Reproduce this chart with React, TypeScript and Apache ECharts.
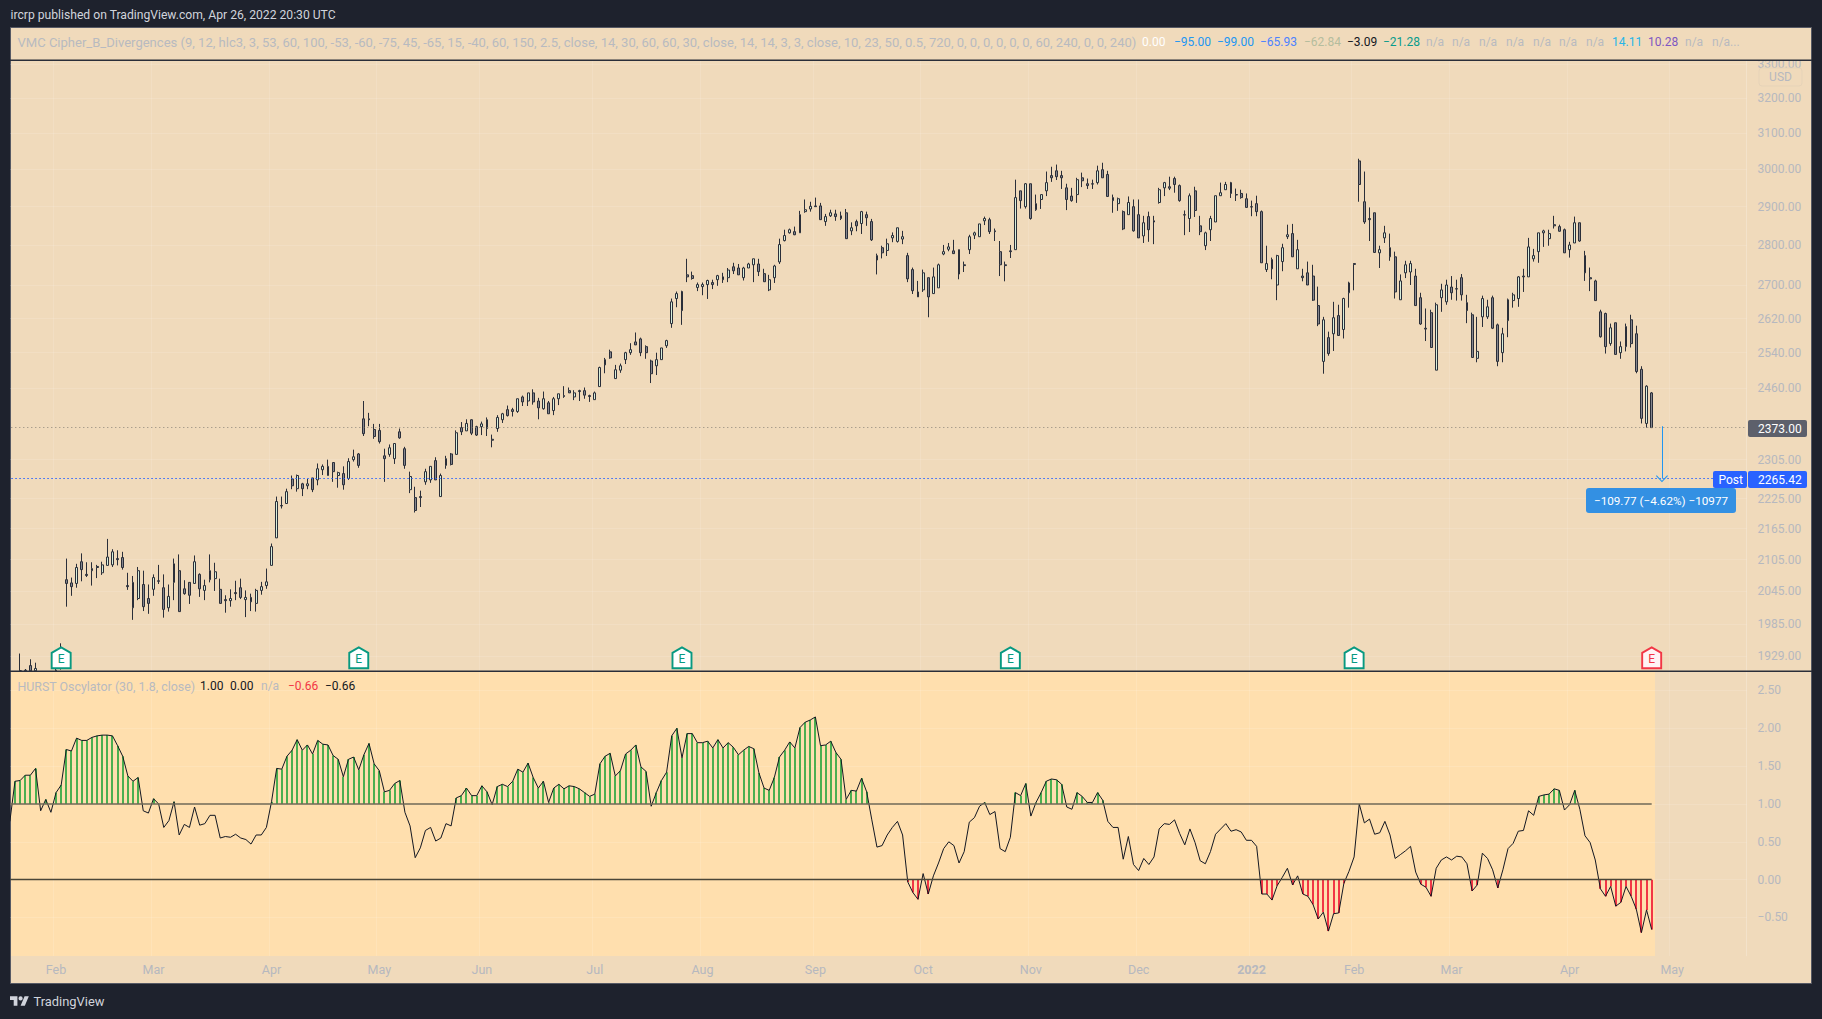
import React, { useEffect, useRef } from "react";
import * as echarts from "echarts";

// [open, close, low, high] per trading day; "-" marks days wholly below the visible pane
const candles: any[] = [
"-","-",[1903,1903,1903,1933],[1903,1904,1903,1906],[1912,1903,1903,1923],[1903,1907,1903,1917],"-","-","-",[1903,1904,1903,1907],
[1908,1925,1905,1951],[2067,2060,2017,2107],[2061,2054,2037,2071],[2060,2090,2052,2097],[2101,2086,2064,2117],[2077,2075,2072,2100],[2084,2088,2056,2100],[2092,2090,2070,2095],[2080,2095,2076,2101],[2094,2110,2094,2145],
[2095,2120,2091,2125],[2107,2105,2094,2123],[2109,2090,2086,2120],[2056,2054,2048,2080],[2015,2062,1993,2074],[2032,2084,2029,2091],[2058,2017,2009,2084],[2032,2023,2004,2058],[2049,2071,2037,2077],[2065,2064,2059,2095],
[2052,2012,1997,2077],[2015,2036,2008,2058],[2062,2097,2029,2107],[2084,2008,2008,2115],[2050,2041,2039,2066],[2062,2038,2022,2062],[2060,2101,2060,2113],[2077,2050,2035,2079],[2047,2056,2029,2067],[2067,2084,2062,2115],
[2069,2082,2046,2099],[2049,2023,2023,2069],[2030,2028,2006,2038],[2028,2032,2017,2049],[2043,2041,2029,2065],[2052,2034,2031,2069],[2030,2034,1998,2047],[2034,2026,2009,2041],[2023,2047,2008,2050],[2047,2054,2039,2063],
[2056,2063,2050,2088],[2094,2130,2094,2136],[2147,2219,2147,2229],[2211,2210,2205,2229],[2215,2239,2215,2245],[2265,2251,2244,2272],[2245,2272,2239,2274],[2255,2245,2230,2257],[2251,2255,2244,2265],[2267,2243,2238,2267],
[2263,2286,2252,2297],[2284,2291,2273,2295],[2272,2291,2272,2305],[2299,2280,2259,2299],[2272,2278,2247,2280],[2276,2253,2243,2291],[2266,2301,2263,2308],[2305,2311,2301,2326],[2317,2293,2288,2319],[2392,2360,2355,2431],
[2392,2390,2376,2405],[2369,2354,2349,2381],[2367,2343,2339,2381],[2313,2307,2259,2328],[2316,2330,2311,2337],[2307,2339,2296,2339],[2364,2351,2349,2371],[2328,2293,2286,2332],[2243,2270,2236,2280],[2227,2201,2197,2249],
[2229,2227,2208,2241],[2259,2280,2253,2286],[2263,2291,2257,2291],[2303,2263,2263,2310],[2229,2272,2229,2276],[2293,2307,2286,2313],[2317,2295,2293,2319],[2316,2362,2316,2367],[2373,2364,2357,2385],[2366,2382,2366,2391],
[2390,2361,2357,2391],[2375,2357,2355,2377],[2375,2381,2357,2386],[2390,2371,2355,2395],[2348,2346,2331,2358],[2371,2395,2364,2400],[2390,2403,2383,2405],[2412,2399,2397,2421],[2412,2408,2397,2416],[2408,2436,2405,2436],
[2440,2429,2420,2443],[2431,2449,2420,2449],[2449,2429,2423,2457],[2431,2416,2391,2438],[2414,2436,2412,2452],[2427,2403,2403,2431],[2410,2436,2400,2440],[2436,2447,2422,2447],[2443,2441,2438,2464],[2454,2449,2449,2461],
[2440,2449,2433,2455],[2454,2452,2431,2456],[2454,2444,2436,2461],[2443,2441,2429,2445],[2434,2449,2434,2452],[2463,2506,2463,2508],[2512,2524,2493,2528],[2542,2528,2526,2547],[2481,2501,2481,2512],[2500,2510,2494,2515],
[2524,2540,2514,2542],[2540,2547,2535,2562],[2565,2558,2558,2587],[2572,2540,2532,2575],[2554,2540,2526,2557],[2521,2492,2471,2524],[2510,2524,2489,2540],[2524,2551,2524,2551],[2556,2568,2551,2570],[2608,2660,2598,2668],
[2668,2680,2647,2685],[2685,2639,2605,2687],[2726,2721,2708,2766],[2724,2717,2714,2734],[2695,2702,2686,2707],[2697,2702,2676,2707],[2702,2712,2667,2714],[2707,2702,2691,2714],[2714,2724,2699,2726],[2721,2714,2706,2731],
[2719,2738,2708,2743],[2746,2736,2728,2756],[2743,2726,2726,2753],[2719,2743,2712,2746],[2743,2753,2743,2756],[2751,2766,2708,2766],[2753,2734,2723,2766],[2729,2709,2709,2741],[2689,2714,2686,2726],[2719,2748,2706,2751],
[2758,2802,2753,2817],[2812,2825,2810,2840],[2832,2840,2830,2843],[2835,2827,2826,2848],[2832,2879,2832,2889],[2887,2892,2884,2919],[2894,2901,2887,2913],[2902,2900,2900,2924],[2902,2866,2866,2910],[2861,2874,2850,2881],
[2876,2884,2873,2892],[2881,2874,2863,2892],[2876,2869,2865,2887],[2884,2817,2817,2894],[2837,2845,2826,2859],[2861,2850,2836,2866],[2856,2887,2829,2889],[2879,2871,2850,2887],[2861,2814,2811,2868],[2763,2774,2727,2779],
[2794,2781,2767,2799],[2787,2804,2773,2817],[2819,2825,2808,2833],[2810,2845,2807,2845],[2816,2822,2803,2837],[2774,2716,2708,2781],[2739,2687,2679,2744],[2684,2672,2672,2711],[2689,2731,2684,2739],[2719,2672,2623,2719],
[2680,2721,2680,2744],[2694,2751,2694,2754],[2778,2784,2775,2801],[2790,2796,2785,2806],[2786,2779,2779,2814],[2789,2728,2715,2789],[2751,2749,2733,2759],[2789,2822,2778,2827],[2826,2832,2816,2835],[2822,2855,2822,2855],
[2863,2869,2852,2874],[2866,2835,2829,2871],[2837,2835,2811,2843],[2784,2751,2723,2811],[2751,2749,2710,2759],[2786,2784,2768,2801],[2789,2924,2789,2972],[2942,2916,2895,2942],[2900,2961,2895,2963],[2961,2869,2866,2961],
[2892,2908,2889,2932],[2919,2932,2894,2932],[2942,2964,2928,2994],[2983,2977,2966,3007],[2996,2980,2971,3013],[2983,2977,2947,2996],[2950,2919,2891,2961],[2928,2916,2913,2950],[2932,2972,2910,2977],[2977,2969,2952,2991],
[2961,2956,2947,2975],[2961,2960,2947,2972],[2964,2996,2959,3010],[2999,2977,2977,3018],[2986,2927,2927,2996],[2924,2916,2884,2932],[2908,2921,2889,2924],[2887,2842,2839,2890],[2879,2911,2879,2927],[2900,2837,2835,2919],
[2879,2819,2819,2919],[2824,2858,2806,2876],[2874,2840,2809,2887],[2863,2860,2803,2876],[2911,2945,2908,2950],[2950,2964,2928,2966],[2953,2949,2944,2980],[2975,2959,2937,2980],[2956,2916,2913,2959],[2879,2878,2826,2890],
[2869,2929,2834,2935],[2942,2890,2873,2953],[2850,2835,2826,2876],[2799,2832,2788,2835],[2840,2869,2811,2876],[2860,2929,2860,2929],[2929,2937,2929,2964],[2945,2959,2945,2966],[2964,2935,2923,2966],[2932,2931,2915,2948],
[2935,2924,2921,2945],[2921,2898,2898,2935],[2900,2899,2875,2916],[2908,2887,2875,2929],[2887,2756,2756,2890],[2739,2754,2733,2799],[2764,2741,2715,2769],[2701,2774,2664,2776],[2759,2794,2735,2804],[2822,2827,2816,2853],
[2830,2771,2771,2855],[2741,2789,2741,2814],[2723,2719,2710,2741],[2731,2701,2701,2759],[2723,2664,2662,2751],[2651,2607,2602,2697],[2520,2617,2492,2624],[2575,2538,2533,2589],[2584,2622,2544,2660],[2627,2580,2580,2653],
[2594,2668,2573,2670],[2682,2706,2646,2709],[2754,2752,2688,2755],[3023,2959,2913,3029],[2913,2860,2855,2994],[2869,2866,2811,2898],[2884,2782,2781,2884],[2781,2789,2743,2799],[2819,2832,2806,2850],[2794,2771,2761,2830],
[2771,2684,2668,2784],[2665,2711,2665,2727],[2731,2751,2718,2761],[2733,2754,2701,2761],[2723,2651,2651,2741],[2670,2607,2605,2682],[2597,2595,2567,2644],[2634,2552,2552,2641],[2500,2653,2500,2658],[2670,2689,2636,2704],
[2660,2701,2653,2714],[2696,2682,2665,2723],[2692,2691,2663,2714],[2719,2677,2663,2728],[2658,2639,2609,2677],[2629,2529,2529,2634],[2527,2543,2518,2624],[2624,2668,2600,2675],[2624,2648,2619,2665],[2670,2597,2595,2675],
[2605,2520,2509,2608],[2540,2584,2518,2598],[2615,2665,2576,2668],[2663,2677,2646,2682],[2668,2721,2648,2723],[2723,2721,2684,2741],[2721,2796,2721,2819],[2766,2774,2759,2791],[2784,2832,2756,2832],[2832,2837,2796,2840],
[2817,2830,2799,2840],[2853,2850,2843,2876],[2848,2836,2835,2853],[2840,2781,2781,2843],[2789,2801,2769,2809],[2806,2858,2806,2874],[2858,2811,2809,2858],[2774,2731,2711,2786],[2719,2716,2686,2744],[2711,2663,2663,2714],
[2636,2577,2575,2641],[2632,2554,2538,2634],[2561,2598,2556,2608],[2610,2536,2536,2610],[2540,2554,2526,2566],[2554,2601,2543,2608],[2617,2561,2552,2629],[2584,2497,2493,2603],[2502,2393,2382,2509],[2382,2464,2373,2466],
[2449,2373,2373,2451],
];

const hurst: number[] = [
.77,1.30,1.31,1.38,1.38,1.47,.91,1.06,.89,1.15,1.25,1.72,1.70,1.87,1.84,1.84,1.88,1.90,1.91,1.91,
1.90,1.77,1.63,1.37,1.30,1.35,.91,.88,1.07,1.00,.69,.78,1.03,.59,.73,.69,.96,.72,.74,.85,
.85,.55,.57,.56,.60,.55,.53,.47,.59,.59,.69,1.03,1.47,1.46,1.63,1.71,1.85,1.71,1.78,1.66,
1.84,1.79,1.78,1.64,1.59,1.36,1.59,1.62,1.45,1.65,1.80,1.53,1.44,1.16,1.18,1.27,1.31,.89,.71,.29,
.42,.65,.69,.51,.55,.74,.71,1.08,1.11,1.21,1.11,1.11,1.24,1.16,.99,1.23,1.26,1.23,1.30,1.46,
1.42,1.54,1.35,1.21,1.30,1.02,1.21,1.26,1.20,1.24,1.23,1.20,1.15,1.10,1.13,1.53,1.63,1.67,1.37,1.44,
1.66,1.71,1.78,1.49,1.43,.97,1.15,1.31,1.42,1.90,2.00,1.61,1.93,1.93,1.81,1.81,1.83,1.74,1.85,1.74,
1.81,1.75,1.65,1.71,1.76,1.73,1.41,1.21,1.18,1.35,1.62,1.71,1.82,1.74,2.01,2.08,2.11,2.15,1.77,1.78,
1.83,1.68,1.59,1.06,1.18,1.17,1.34,1.16,.79,.43,.45,.59,.69,.77,.59,-.03,-.17,-.26,.08,-.19,
.05,.22,.41,.50,.45,.22,.37,.76,.82,.97,1.02,.86,.90,.41,.37,.56,1.15,1.11,1.27,.84,
1.02,1.15,1.30,1.33,1.32,1.26,.96,.93,1.15,1.10,1.02,1.02,1.15,1.05,.77,.69,.69,.27,.57,.20,
.12,.28,.20,.30,.67,.74,.73,.79,.61,.46,.67,.49,.25,.21,.37,.60,.67,.74,.64,.66,
.63,.52,.52,.44,-.19,-.19,-.27,-.08,.03,.15,-.07,.05,-.19,-.22,-.33,-.52,-.43,-.68,-.45,-.44,
-.05,.11,.30,1.00,.75,.80,.60,.62,.77,.59,.28,.33,.38,.44,.10,-.06,-.10,-.22,.15,.26,
.30,.26,.31,.30,.21,-.15,-.07,.35,.28,.13,-.11,.13,.41,.48,.64,.65,.91,.85,1.10,1.12,
1.13,1.20,1.18,.92,.99,1.18,.93,.58,.49,.26,-.12,-.22,-.09,-.35,-.30,-.09,-.22,-.39,-.70,-.40,
-.66,
];

const priceTicks = [1929,1985,2045,2105,2165,2225,2305,2460,2540,2620,2700,2800,2900,3000,3100,3200,3300];
const hurstTicks = [-0.5,0,0.5,1,1.5,2,2.5];
const monthLabels = ["Feb","Mar","Apr","May","Jun","Jul","Aug","Sep","Oct","Nov","Dec","2022","Feb","Mar","Apr","May"];
const monthIndex = [9,28,51,72,92,114,135,157,178,199,220,242,262,281,304,324];
const earningsIndex = [10,68,131,195,262];
const pendingEarningsIndex = [320];
const lastPrice = 2373;
const postPrice = 2265.42;
const measureText = "\u2212109.77 (\u22124.62%) \u221210977";

const publishedText = "ircrp published on TradingView.com, Apr 26, 2022 20:30 UTC";
const cipherTitle = "VMC Cipher_B_Divergences (9, 12, hlc3, 3, 53, 60, 100, -53, -60, -75, 45, -65, 15, -40, 60, 150, 2.5, close, 14, 30, 60, 60, 30, close, 14, 14, 3, 3, close, 10, 23, 50, 0.5, 720, 0, 0, 0, 0, 0, 0, 60, 240, 0, 0, 240)";
const cipherValues = ["0.00","\u221295.00","\u221299.00","\u221265.93","\u221262.84","\u22123.09","\u221221.28","n/a","n/a","n/a","n/a","n/a","n/a","n/a","14.11","10.28","n/a","n/a..."];
const cipherColors = ["#ffffff","#2196f3","#2196f3","#4c82ff","#b5bd9e","#131722","#089c8c","#b8bac0","#b8bac0","#b8bac0","#b8bac0","#b8bac0","#b8bac0","#b8bac0","#26b6e8","#7e57c2","#b8bac0","#b8bac0"];
const cipherX = [1142,1174,1217,1260,1304,1347,1383,1426,1452,1479,1506,1533,1559,1586,1612,1648,1685,1712];
const hurstTitle = "HURST Oscylator (30, 1.8, close)";
const hurstValuesText = ["1.00","0.00","n/a","\u22120.66","\u22120.66"];
const hurstValuesColors = ["#131722","#131722","#b8bac0","#f23645","#131722"];
const hurstValuesX = [200,230,261,288,325];

const PAGE = "#1e222d";
const PANEL = "#f0dabb";
const PANE2 = "#ffdfae";
const AXIS_TEXT = "#b6b8bf";
const FAINT = "rgba(255,255,255,0.13)";
const FONT = "Roboto";

const SLOT = 5.1307;
const SLOTS = 339;
const GRID_LEFT = 7.3;

const houseSymbol = "path://M9.5 0L19 5.5V21H0V5.5Z";
const chevron = "path://M0,9L8,0L16,9L15,10L8,2L1,10Z";

function txt(text: string, x: number, y: number, fill: string, size = 13, extra: any = {}) {
  return {
    type: "text",
    z: 120,
    style: { text, x, y, fill, font: `${extra.weight || "normal"} ${size}px ${FONT}`, textAlign: extra.align || "left", textVerticalAlign: "middle" },
  };
}

export default function App() {
  const ref = useRef<HTMLDivElement>(null);
  useEffect(() => {
    if (!ref.current) return;
    echarts.graphic.registerShape(
      "tvlogo",
      echarts.graphic.extendPath("M14 22H7V11H0V4h14v18zM28 22h-8l7.5-18h8L28 22zM24 8a4 4 0 1 1-8 0 4 4 0 0 1 8 0z", {})
    );
    const chart = echarts.init(ref.current, undefined, { renderer: "svg" });
    const categories = Array.from({ length: SLOTS }, (_, i) => {
      const k = monthIndex.indexOf(i);
      return k >= 0 ? monthLabels[k] : "";
    });
    const isMonth = (i: number) => monthIndex.includes(i);
    const xAxisBase = (gridIndex: number, showLabel: boolean) => ({
      type: "category",
      gridIndex,
      data: categories,
      axisLine: { show: false },
      axisTick: { show: false, alignWithLabel: true, interval: (i: number) => isMonth(i) },
      splitLine: { show: true, interval: (i: number) => isMonth(i), lineStyle: { color: FAINT, width: 1 } },
      axisLabel: {
        show: showLabel,
        interval: (i: number) => isMonth(i),
        color: AXIS_TEXT,
        fontFamily: FONT,
        fontSize: 12.5,
        margin: 7,
        hideOverlap: false,
        formatter: (v: string) => (v === "2022" ? "{b|2022}" : v),
        rich: { b: { fontWeight: "bold", color: AXIS_TEXT, fontFamily: FONT, fontSize: 12.5 } },
      },
    });
    const earningPoint = (i: number, color: string, fill: string) => ({
      coord: [i, 1925.5],
      symbol: houseSymbol,
      symbolSize: [19, 21],
      itemStyle: { color: fill, borderColor: color, borderWidth: 2 },
      label: { show: true, position: "inside", formatter: "E", color, fontFamily: FONT, fontSize: 12, offset: [0, 1] },
    });
    const elements: any[] = [
      { type: "rect", z: -2, shape: { x: 10.5, y: 27.5, width: 1801, height: 956 }, style: { fill: PANEL, stroke: "#565964", lineWidth: 1 } },
      { type: "rect", z: -1, shape: { x: 11, y: 672, width: 1644, height: 284 }, style: { fill: PANE2 } },
      { type: "rect", z: 100, shape: { x: 0, y: 0, width: 10, height: 1019 }, style: { fill: PAGE } },
      { type: "rect", z: 100, shape: { x: 11, y: 28, width: 1800, height: 32 }, style: { fill: PANEL } },
      { type: "rect", z: 110, shape: { x: 10, y: 59.5, width: 1802, height: 1.5 }, style: { fill: "#2a2e39" } },
      { type: "rect", z: 110, shape: { x: 10, y: 670.5, width: 1802, height: 1.5 }, style: { fill: "#2a2e39" } },
      txt(publishedText, 10.5, 15, "#d1d4dc", 12.15),
      txt(cipherTitle, 17.5, 42, "#b8bac0", 13.04),
      ...cipherValues.map((t, i) => txt(t, cipherX[i], 42, cipherColors[i], 12)),
      txt(hurstTitle, 17.5, 686, "#b8bac0", 12.4),
      ...hurstValuesText.map((t, i) => txt(t, hurstValuesX[i], 686, hurstValuesColors[i], 12)),
      { type: "rect", z: 115, shape: { x: 1759, y: 68, width: 43, height: 18, r: 3 }, style: { fill: PANEL, stroke: "#e6d3b8", lineWidth: 1 } },
      txt("USD", 1780.5, 77, AXIS_TEXT, 12, { align: "center" }),
      { type: "rect", z: 115, shape: { x: 1748, y: 420, width: 59, height: 17, r: 2 }, style: { fill: "#5d606b" } },
      txt(lastPrice.toFixed(2), 1758, 428.7, "#ffffff", 12),
      { type: "rect", z: 115, shape: { x: 1713, y: 471, width: 34, height: 17, r: 2 }, style: { fill: "#2962ff" } },
      txt("Post", 1718.5, 479.5, "#ffffff", 12),
      { type: "rect", z: 115, shape: { x: 1748, y: 471, width: 59, height: 17, r: 2 }, style: { fill: "#2962ff" } },
      txt(postPrice.toFixed(2), 1758, 479.5, "#ffffff", 12),
      { type: "rect", z: 115, shape: { x: 1586, y: 488, width: 150, height: 25, r: 3 }, style: { fill: "#3390e3" } },
      txt(measureText, 1661, 500.5, "#ffffff", 11.7, { align: "center" }),
      { type: "tvlogo", z: 120, x: 10, y: 994.2, scaleX: 0.53, scaleY: 0.53, style: { fill: "#d1d4dc" } },
      txt("TradingView", 33.5, 1001.5, "#d1d4dc", 12.9),
    ];
    chart.setOption({
      animation: false,
      backgroundColor: "transparent",
      graphic: { elements },
      grid: [
        { left: GRID_LEFT, top: 61, width: SLOT * SLOTS, height: 610 },
        { left: GRID_LEFT, top: 672, width: SLOT * SLOTS, height: 284 },
      ],
      xAxis: [xAxisBase(0, false), xAxisBase(1, true)],
      yAxis: [
        {
          type: "log",
          logBase: 10,
          gridIndex: 0,
          position: "right",
          min: 1902.6,
          max: 3310,
          axisLine: { show: true, lineStyle: { color: FAINT } },
          axisTick: { show: false, customValues: priceTicks },
          splitLine: { show: true, lineStyle: { color: FAINT, width: 1 } },
          axisLabel: {
            customValues: priceTicks,
            color: AXIS_TEXT,
            fontFamily: FONT,
            fontSize: 12,
            margin: 11,
            align: "left",
            padding: [3, 0, 0, 0],
            formatter: (v: number) => Number(v).toFixed(2),
          },
        },
        {
          type: "value",
          gridIndex: 1,
          position: "right",
          min: -1.009,
          max: 2.744,
          axisLine: { show: true, lineStyle: { color: FAINT } },
          axisTick: { show: false, customValues: hurstTicks },
          splitLine: { show: true, lineStyle: { color: FAINT, width: 1 } },
          axisLabel: {
            customValues: hurstTicks,
            color: AXIS_TEXT,
            fontFamily: FONT,
            fontSize: 12,
            margin: 11,
            align: "left",
            padding: [1, 0, 0, 0],
            formatter: (v: number) => (v < 0 ? "\u2212" + Math.abs(v).toFixed(2) : Number(v).toFixed(2)),
          },
        },
      ],
      series: [
        {
          type: "candlestick",
          xAxisIndex: 0,
          yAxisIndex: 0,
          barWidth: 2.4,
          data: candles,
          clip: true,
          itemStyle: { color: "#d8eedb", color0: "#85868e", borderColor: "#2a2e39", borderColor0: "#2a2e39", borderWidth: 1 },
          markLine: {
            silent: true,
            symbol: "none",
            animation: false,
            label: { show: false },
            data: [
              { yAxis: lastPrice, lineStyle: { color: "#8d857b", type: [1, 3], width: 1.2 } },
              { yAxis: postPrice, lineStyle: { color: "#2962ff", type: [1.5, 2.5], width: 1.2 } },
              [
                { coord: [322, lastPrice + 3], symbol: "none", lineStyle: { color: "#2196f3", type: "solid", width: 1 } },
                { coord: [322, postPrice], symbol: chevron, symbolSize: [12, 7], lineStyle: { color: "#2196f3", type: "solid", width: 1 }, itemStyle: { color: "#2196f3" } },
              ],
            ],
          },
          markPoint: {
            silent: true,
            animation: false,
            data: [
              ...earningsIndex.map((i) => earningPoint(i, "#089981", "#ffffff")),
              ...pendingEarningsIndex.map((i) => earningPoint(i, "#f23645", "#fff3f4")),
            ],
          },
        },
        {
          type: "custom",
          xAxisIndex: 1,
          yAxisIndex: 1,
          data: hurst.map((v, i) => [i, v]),
          encode: { x: 0, y: 1 },
          clip: false,
          renderItem: (_: any, api: any) => {
            const i = api.value(0);
            const v = api.value(1);
            if (v < 1 && v > 0) return null;
            const base = v >= 1 ? 1 : 0;
            const a = api.coord([i, base]);
            const b = api.coord([i, v]);
            return {
              type: "rect",
              shape: { x: Math.round(a[0] - 1), y: Math.min(a[1], b[1]), width: 2, height: Math.abs(a[1] - b[1]) },
              style: { fill: v >= 1 ? "#4caf50" : "#f23645" },
            };
          },
        },
        {
          type: "line",
          xAxisIndex: 1,
          yAxisIndex: 1,
          data: hurst,
          showSymbol: false,
          lineStyle: { color: "#131722", width: 1 },
          itemStyle: { color: "#131722" },
          markLine: {
            silent: true,
            symbol: "none",
            animation: false,
            label: { show: false },
            data: [
              [
                { coord: [0, 1], lineStyle: { color: "#6f6856", width: 1.6, type: "solid" } },
                { coord: [320, 1] },
              ],
              [
                { coord: [0, 0], lineStyle: { color: "#4a4638", width: 1.4, type: "solid" } },
                { coord: [320, 0] },
              ],
            ],
          },
        },
      ],
    });
    return () => chart.dispose();
  }, []);
  return (
    <div style={{ position: "fixed", left: 0, top: 0, width: 1822, height: 1019, background: PAGE }}>
      <div ref={ref} style={{ width: 1822, height: 1019 }} />
    </div>
  );
}
